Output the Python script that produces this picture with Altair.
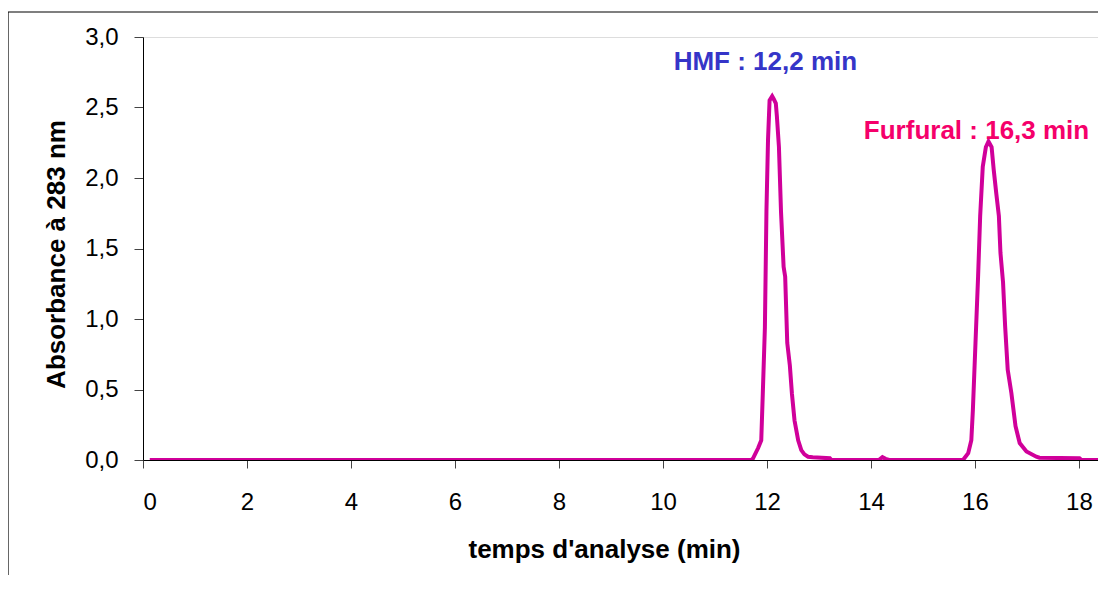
import altair as alt
import pandas as pd

# Chromatogram trace (time in min, absorbance at 283 nm)
time_min = [0.13, 11.70, 11.73, 11.83, 11.89, 11.92, 11.96, 11.99, 12.02, 12.05,
            12.10, 12.13, 12.17, 12.19, 12.23, 12.27, 12.32, 12.35, 12.39, 12.44,
            12.48, 12.53, 12.60, 12.66, 12.72, 12.79, 12.88, 13.21, 13.24, 14.15,
            14.22, 14.28, 14.35, 15.77, 15.87, 15.93, 15.96, 16.01, 16.06, 16.10,
            16.15, 16.21, 16.26, 16.32, 16.36, 16.41, 16.46, 16.49, 16.54, 16.58,
            16.63, 16.70, 16.78, 16.86, 16.99, 17.18, 17.24, 18.01, 18.05, 18.52]
absorbance = [0.0, 0.0, 0.01, 0.085, 0.14, 0.475, 0.94, 1.77, 2.27, 2.55,
              2.58, 2.56, 2.53, 2.44, 2.22, 1.76, 1.37, 1.30, 0.83, 0.67,
              0.47, 0.28, 0.14, 0.07, 0.04, 0.023, 0.02, 0.012, 0.0, 0.0,
              0.02, 0.008, 0.0, 0.0, 0.048, 0.14, 0.355, 0.83, 1.30, 1.73,
              2.08, 2.22, 2.26, 2.22, 2.06, 1.89, 1.73, 1.47, 1.26, 0.95,
              0.64, 0.475, 0.24, 0.12, 0.06, 0.023, 0.016, 0.012, 0.0, 0.0]

# Peak annotations
ann_labels = ["HMF : 12,2 min", "Furfural : 16,3 min"]
ann_x = [11.97, 16.03]
ann_y = [2.82, 2.33]
ann_colors = ["#3535C8", "#F5006A"]

x_ticks = [0, 2, 4, 6, 8, 10, 12, 14, 16, 18]
y_ticks = [0.0, 0.5, 1.0, 1.5, 2.0, 2.5, 3.0]

df = pd.DataFrame({"t": time_min, "a": absorbance})
ann = pd.DataFrame({"label": ann_labels, "x": ann_x, "y": ann_y, "color": ann_colors})

FONT = "Liberation Sans"

x_scale = alt.Scale(domain=[0, 18.52], nice=False, zero=False)
y_scale = alt.Scale(domain=[0, 3.0], nice=False)

line = alt.Chart(df).mark_line(color="#D0009A", strokeWidth=4, clip=True).encode(
    x=alt.X("t:Q", scale=x_scale,
            axis=alt.Axis(values=x_ticks, title="temps d'analyse (min)",
                          labelFontSize=24, labelFont=FONT, labelColor="#000000",
                          labelPadding=22, tickSize=8, tickColor="#444444",
                          domainColor="#000000", grid=False,
                          titleFont=FONT, titleFontSize=26, titleFontWeight="bold",
                          titleColor="#000000", titleX=461, titleY=89,
                          titleAlign="center", titleBaseline="middle")),
    y=alt.Y("a:Q", scale=y_scale,
            axis=alt.Axis(values=y_ticks, title="Absorbance à 283 nm",
                          labelExpr="replace(format(datum.value, '.1f'), '.', ',')",
                          labelFontSize=24, labelFont=FONT, labelColor="#000000",
                          labelPadding=16, tickSize=9, tickColor="#444444",
                          domainColor="#000000", grid=False,
                          titleFont=FONT, titleFontSize=26, titleFontWeight="bold",
                          titleColor="#000000", titleX=-87, titleY=217,
                          titleAngle=-90, titleAlign="center",
                          titleBaseline="middle")),
)

labels = alt.Chart(ann).mark_text(font=FONT, fontSize=26, fontWeight="bold",
                                  align="center", baseline="middle").encode(
    x=alt.X("x:Q", scale=x_scale),
    y=alt.Y("y:Q", scale=y_scale),
    text="label:N",
    color=alt.Color("color:N", scale=None),
)

frame = alt.Chart(alt.Data(values=[{}])).mark_rect(
    fill="transparent", stroke="#000000", strokeWidth=1.2
).encode(
    x=alt.value(-135), x2=alt.value(2000),
    y=alt.value(-25), y2=alt.value(2000),
)

chart = alt.layer(frame, line, labels).properties(
    width=963, height=423,
    padding={"left": 135, "top": 29, "right": -8, "bottom": 115},
    autosize=alt.AutoSizeParams(type="none"),
).configure_view(stroke=None).configure(background="#ffffff")

chart.save("out.html", embed_options={"renderer": "svg", "actions": False})
